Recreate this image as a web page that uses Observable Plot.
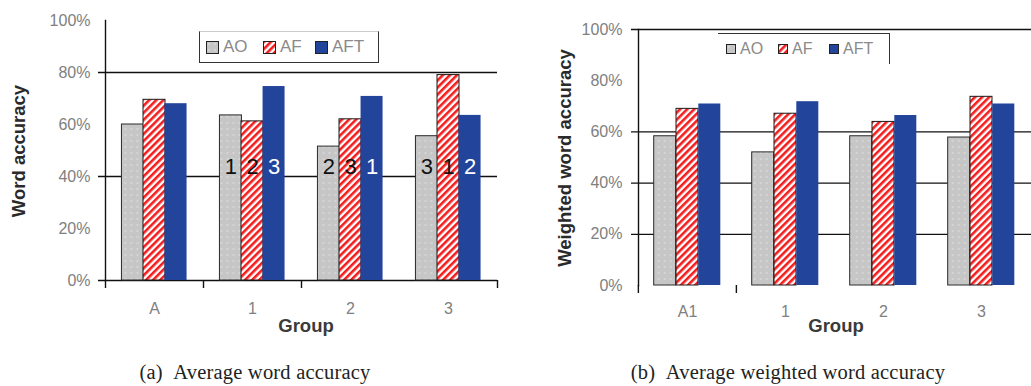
<!DOCTYPE html>
<html><head><meta charset="utf-8">
<script src="https://cdn.jsdelivr.net/npm/d3@7"></script>
<script src="https://cdn.jsdelivr.net/npm/@observablehq/plot@0.6"></script>
<style>
body{margin:0;background:#fff;}
#root{position:relative;width:1031px;height:386px;overflow:hidden;font-family:"Liberation Sans",Arial,sans-serif;}
.chart{position:absolute;top:0;}
.ttl{position:absolute;font-weight:bold;color:#2a2a2a;white-space:nowrap;}
.rot{transform:translate(-50%,-50%) rotate(-90deg);}
.ctr{transform:translate(-50%,-50%);}
.legend{position:absolute;display:flex;align-items:center;color:#8a8a8a;white-space:nowrap;box-sizing:border-box;}
.legend > span{display:inline-flex;align-items:center;}
.legend svg{margin-right:4px;}
.caption{position:absolute;font-family:"Liberation Serif","DejaVu Serif",serif;font-size:20.5px;letter-spacing:0.2px;color:#222;white-space:nowrap;transform:translateX(-50%);}
</style></head><body>
<svg width="0" height="0" style="position:absolute">
  <defs>
    <pattern id="pAO" width="6" height="6" patternUnits="userSpaceOnUse">
      <rect width="6" height="6" fill="#c6c6c6"/>
      <rect x="2" y="2" width="2" height="2" fill="#d4d4d4"/>
    </pattern>
    <pattern id="pAF" width="5" height="5" patternUnits="userSpaceOnUse" patternTransform="rotate(45)">
      <rect width="5" height="5" fill="#ffffff"/>
      <rect width="2.6" height="5" fill="#f41c1c"/>
    </pattern>
  </defs>
</svg>
<div id="root"></div>
<script>
// ---- data: chart (a) ----
const groupsA = ["A", "1", "2", "3"];
const aoA  = [0.600, 0.635, 0.515, 0.555];
const afA  = [0.695, 0.612, 0.620, 0.790];
const aftA = [0.680, 0.746, 0.708, 0.635];
const ranksA = [null, [1, 2, 3], [2, 3, 1], [3, 1, 2]];
const yTicksA = [0, 0.2, 0.4, 0.6, 0.8, 1.0];
const gridA = [0.8, 0.4, 0];
const boundaryTicksA = ["A", "1", "2"];

// ---- data: chart (b) ----
const groupsB = ["A1", "1", "2", "3"];
const aoB  = [0.583, 0.520, 0.583, 0.578];
const afB  = [0.690, 0.671, 0.639, 0.737];
const aftB = [0.709, 0.718, 0.664, 0.709];
const yTicksB = [0, 0.2, 0.4, 0.6, 0.8, 1.0];
const gridB = [1.0, 0.6, 0.4, 0.2];
const boundaryTicksB = ["A1", "1"];

const seriesNames = ["AO", "AF", "AFT"];
const fills = {AO: "url(#pAO)", AF: "url(#pAF)", AFT: "#23449b"};
const strokes = {AO: "#2a2a2a", AF: "#1a1a1a", AFT: "none"};

function rows(groups, ao, af, aft) {
  return groups.map((g, i) => ({group: g, AO: ao[i], AF: af[i], AFT: aft[i]}));
}

function makeChart(cfg) {
  const {groups, data, width, height, mL, mR, mT, mB, pad, yTicks, grid, bticks, baseline, ranks} = cfg;
  const step = (width - mL - mR) / groups.length;
  const bw = step * (1 - pad);
  const marks = [];
  marks.push(Plot.ruleY(grid, {stroke: "#111", strokeWidth: 1.3, insetLeft: -7}));
  seriesNames.forEach((s, k) => {
    marks.push(Plot.barY(data, {x: "group", y: s, fill: fills[s], stroke: strokes[s], strokeWidth: 1, dx: (k - 1) * bw}));
  });
  if (ranks) {
    const rr = [];
    groups.forEach((g, i) => { if (ranks[i]) ranks[i].forEach((r, k) => rr.push({group: g, k, r: String(r)})); });
    seriesNames.forEach((s, k) => {
      marks.push(Plot.text(rr.filter(d => d.k === k), {x: "group", y: 0.435, text: "r", dx: (k - 1) * bw,
        fill: k === 2 ? "#ffffff" : "#111", fontSize: 22, fontFamily: "Liberation Sans, Arial"}));
    });
  }
  marks.push(Plot.frame({anchor: "left", stroke: "#111", strokeWidth: 1.4}));
  marks.push(Plot.ruleX(bticks, {x: d => d, dx: -step / 2, y1: 0, y2: 0, insetBottom: -8, stroke: "#111", strokeWidth: 1.4}));
  if (baseline) marks.push(Plot.ruleX([groups[groups.length - 1]], {x: d => d, dx: step / 2, y1: 0, y2: 0, insetBottom: -8, stroke: "#111", strokeWidth: 1.4}));
  marks.push(Plot.axisY({ticks: yTicks, tickFormat: d3.format(".0%"), tickSize: 0, tickPadding: cfg.yPad, fill: "#808080", fontSize: 16, label: null}));
  marks.push(Plot.axisX({tickSize: 0, tickPadding: cfg.xPad, fill: "#808080", fontSize: 16, label: null}));
  return Plot.plot({
    width, height, marginLeft: mL, marginRight: mR, marginTop: mT, marginBottom: mB,
    style: {fontFamily: "Liberation Sans, Arial", background: "transparent", overflow: "visible"},
    x: {domain: groups, paddingInner: pad, paddingOuter: pad / 2},
    y: {domain: [0, 1]},
    marks
  });
}

const root = document.getElementById("root");

const chartA = makeChart({groups: groupsA, data: rows(groupsA, aoA, afA, aftA), width: 500, height: 340,
  mL: 105, mR: 3, mT: 20, mB: 60, pad: 0.78, yTicks: yTicksA, grid: gridA, bticks: boundaryTicksA,
  baseline: true, ranks: ranksA, yPad: 15, xPad: 22});
chartA.classList.add("chart"); chartA.style.left = "0px";
root.appendChild(chartA);

const chartB = makeChart({groups: groupsB, data: rows(groupsB, aoB, afB, aftB), width: 491, height: 340,
  mL: 98, mR: 0, mT: 29, mB: 55, pad: 0.773, yTicks: yTicksB, grid: gridB, bticks: boundaryTicksB,
  baseline: false, ranks: null, yPad: 16, xPad: 20});
chartB.classList.add("chart"); chartB.style.left = "540px";
root.appendChild(chartB);

function addDiv(cls, text, css) {
  const d = document.createElement("div");
  d.className = cls; d.textContent = text;
  Object.assign(d.style, css);
  root.appendChild(d);
  return d;
}
addDiv("ttl rot", "Word accuracy", {left: "19px", top: "151px", fontSize: "18.5px"});
addDiv("ttl rot", "Weighted word accuracy", {left: "565px", top: "158px", fontSize: "18.5px"});
addDiv("ttl ctr", "Group", {left: "306px", top: "326px", fontSize: "18.5px", color: "#3a3a3a"});
addDiv("ttl ctr", "Group", {left: "836px", top: "326px", fontSize: "18.5px", color: "#3a3a3a"});

function legend(css, sw, fs, widths) {
  const d = document.createElement("div");
  d.className = "legend";
  Object.assign(d.style, css);
  seriesNames.forEach((s, k) => {
    const sp = document.createElement("span");
    if (widths[k]) sp.style.width = widths[k] + "px";
    sp.innerHTML = `<svg width="${sw}" height="${sw}"><rect x="0.5" y="0.5" width="${sw - 1}" height="${sw - 1}" fill="${fills[s]}" stroke="#222" stroke-width="1"/></svg>`;
    const t = document.createElement("span");
    t.textContent = s; t.style.fontSize = fs + "px";
    sp.appendChild(t);
    d.appendChild(sp);
  });
  root.appendChild(d);
}
legend({left: "199px", top: "31px", width: "180px", height: "32px", paddingLeft: "6px",
  borderLeft: "1.5px solid #333", borderRight: "1.5px solid #333", borderBottom: "1.5px solid #333", borderTop: "1px solid #ccc"},
  13, 17, [57, 52, 0]);
legend({left: "718px", top: "33px", width: "172px", height: "31px", paddingLeft: "8px",
  borderTop: "1.5px solid #333", borderRight: "1.5px solid #333"},
  10, 16, [52, 51, 0]);

addDiv("caption", "(a)\u2002Average word accuracy", {left: "255px", top: "361px"});
addDiv("caption", "(b)\u2002Average weighted word accuracy", {left: "788px", top: "361px"});
</script>
</body></html>
